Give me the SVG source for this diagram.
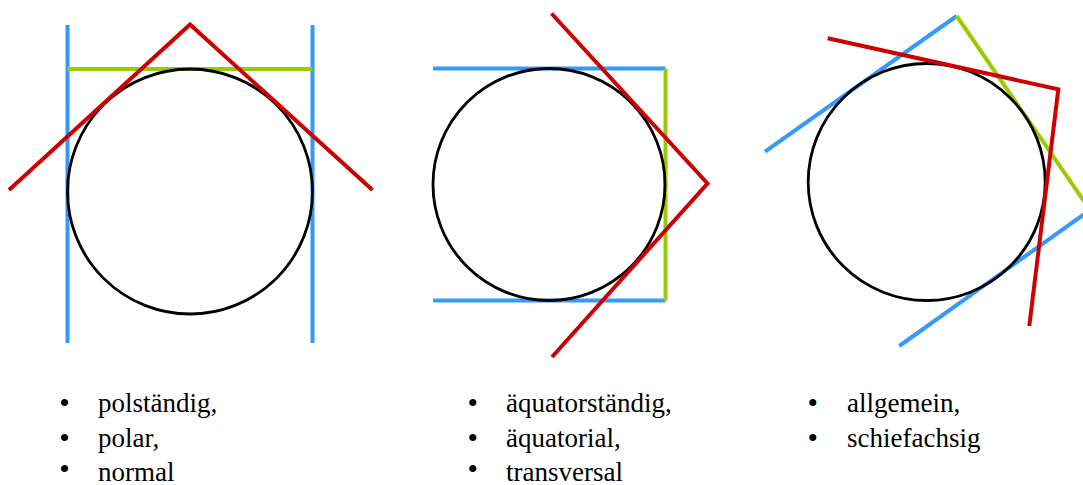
<svg xmlns="http://www.w3.org/2000/svg" width="1083" height="485" viewBox="0 0 1083 485">
  <style>
    .blue { fill: none; stroke: #3399ff; stroke-width: 4; }
    .green { fill: none; stroke: #99cc00; stroke-width: 4; }
    .red { fill: none; stroke: #cc0000; stroke-width: 4; stroke-linejoin: miter; }
    .globe { fill: none; stroke: #000000; stroke-width: 2.8; }
    .lbl { font-family: "Liberation Serif", "Times New Roman", serif; font-size: 27px; fill: #000000; }
    .bul { font-family: "Liberation Serif", "Times New Roman", serif; font-size: 30px; fill: #000000; }
  </style>
  <rect width="1083" height="485" fill="#ffffff"/>

  <g id="polar">
    <line class="blue" x1="67.5" y1="25" x2="67.5" y2="343"/>
    <line class="blue" x1="312.5" y1="25" x2="312.5" y2="343"/>
    <line class="green" x1="67.5" y1="69" x2="312.5" y2="69"/>
    <circle class="globe" cx="190" cy="191.5" r="122.5"/>
    <polyline class="red" points="9,190 190,24.5 372.5,190"/>
  </g>

  <g id="aequatorial">
    <line class="blue" x1="433" y1="68.5" x2="665.5" y2="68.5"/>
    <line class="blue" x1="433" y1="300.5" x2="665.5" y2="300.5"/>
    <line class="green" x1="665.5" y1="68.5" x2="665.5" y2="300.5"/>
    <circle class="globe" cx="549" cy="184.5" r="116"/>
    <polyline class="red" points="551.5,13.5 707.5,183.5 552,357"/>
  </g>

  <g id="allgemein">
    <line class="blue" x1="765" y1="151.7" x2="956.7" y2="16"/>
    <line class="green" x1="956.7" y1="16" x2="1090" y2="210"/>
    <line class="blue" x1="1090" y1="210" x2="899.3" y2="346"/>
    <circle class="globe" cx="926.7" cy="182" r="118.5"/>
    <polyline class="red" points="827.7,38.3 1058.3,89.3 1029.3,326"/>
  </g>

  <g id="labels-polar">
    <text class="bul" x="59.3" y="413">•</text>
    <text class="lbl" x="98" y="412">polständig,</text>
    <text class="bul" x="59.3" y="447.5">•</text>
    <text class="lbl" x="98" y="446.5">polar,</text>
    <text class="bul" x="59.3" y="479">•</text>
    <text class="lbl" x="98" y="481">normal</text>
  </g>

  <g id="labels-aequatorial">
    <text class="bul" x="467.5" y="413">•</text>
    <text class="lbl" x="506" y="412">äquatorständig,</text>
    <text class="bul" x="467.5" y="447.5">•</text>
    <text class="lbl" x="506" y="446.5">äquatorial,</text>
    <text class="bul" x="467.5" y="479">•</text>
    <text class="lbl" x="506" y="481">transversal</text>
  </g>

  <g id="labels-allgemein">
    <text class="bul" x="807.5" y="413">•</text>
    <text class="lbl" x="847" y="412">allgemein,</text>
    <text class="bul" x="807.5" y="447.5">•</text>
    <text class="lbl" x="847" y="446.5">schiefachsig</text>
  </g>
</svg>
